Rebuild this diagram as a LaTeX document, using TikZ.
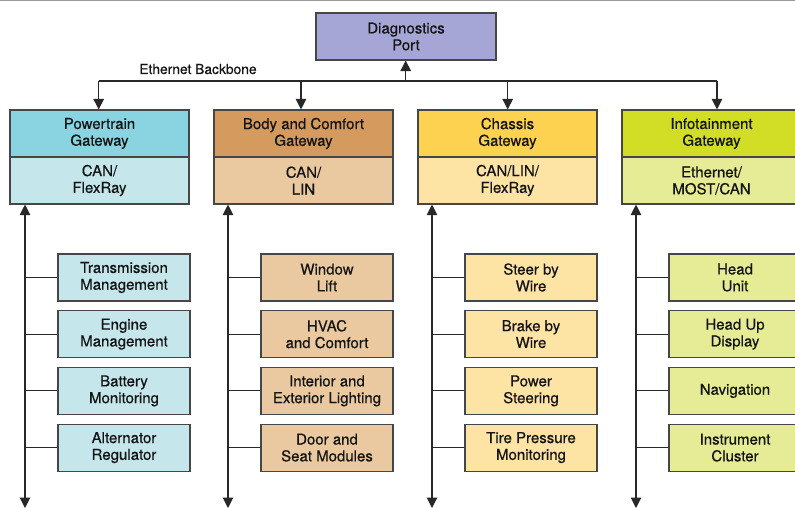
\documentclass[tikz,border=0pt]{standalone}
\usepackage{fontspec}
\setmainfont{TeX Gyre Heros}
\newfontfamily\labelfont{TeX Gyre Heros}[FakeBold=0.5]
\usetikzlibrary{arrows.meta}

% fills
\definecolor{diagfill}{RGB}{166,166,214}
\definecolor{ptdark}{RGB}{138,211,224}
\definecolor{ptlight}{RGB}{197,231,236}
\definecolor{bcdark}{RGB}{212,154,94}
\definecolor{bclight}{RGB}{234,201,160}
\definecolor{chdark}{RGB}{253,210,80}
\definecolor{chlight}{RGB}{253,227,164}
\definecolor{indark}{RGB}{210,222,38}
\definecolor{inlight}{RGB}{230,236,150}
\definecolor{edge}{RGB}{70,70,70}
\definecolor{wire}{RGB}{40,40,40}
\definecolor{ink}{RGB}{20,20,20}

\tikzset{
  box/.style={draw=edge, line width=1.1pt, rectangle, inner sep=0pt,
    align=center, text=ink, font=\labelfont\fontsize{15}{16.8}\selectfont},
  gwbox/.style={box, minimum width=179pt, minimum height=47pt},
  ecubox/.style={box, minimum width=132pt, minimum height=47pt},
  tip/.style={Triangle[width=10.5pt,length=10.5pt]},
  arr/.style={draw=wire, line width=1.1pt, -{Triangle[width=10.5pt,length=10.5pt]}},
  bus/.style={draw=wire, line width=1.1pt,
    {Triangle[width=10.5pt,length=10.5pt]}-{Triangle[width=10.5pt,length=10.5pt]}},
  tap/.style={draw=wire, line width=0.9pt},
}

\begin{document}
\begin{tikzpicture}[x=1pt, y=-1pt]
\useasboundingbox (0,0) rectangle (795,508);

% thin rule along the top edge
\draw[gray!80, line width=1pt] (0,0.6) -- (795,0.6);

% diagnostics port
\node[gwbox, fill=diagfill, minimum width=180pt] (diag) at (406,36.5) {Diagnostics\\Port};

% gateways: upper half name, lower half bus type
\node[gwbox, fill=ptdark]  (ptg) at (99.5,133.5)  {Powertrain\\Gateway};
\node[gwbox, fill=ptlight] (ptb) at (99.5,180.5)  {CAN/\\FlexRay};
\node[gwbox, fill=bcdark]  (bcg) at (303.5,133.5) {Body and Comfort\\Gateway};
\node[gwbox, fill=bclight] (bcb) at (303.5,180.5) {CAN/\\LIN};
\node[gwbox, fill=chdark]  (chg) at (507.5,133.5) {Chassis\\Gateway};
\node[gwbox, fill=chlight] (chb) at (507.5,180.5) {CAN/LIN/\\FlexRay};
\node[gwbox, fill=indark]  (ing) at (711.5,133.5) {Infotainment\\Gateway};
\node[gwbox, fill=inlight] (inb) at (711.5,180.5) {Ethernet/\\MOST/CAN};

% Ethernet backbone
\coordinate (b1) at (98.7,81);
\coordinate (b2) at (301,81);
\coordinate (bd) at (405.7,81);
\coordinate (b3) at (507.7,81);
\coordinate (b4) at (717,81);
\draw[wire, line width=1.1pt] (b1) -- (b4);
\node[font=\labelfont\fontsize{13.8}{15}\selectfont, text=ink, anchor=base] (bbl) at (198,74) {Ethernet Backbone};
\draw[arr] (b1) -- (b1 |- ptg.north);
\draw[arr] (b2) -- (b2 |- bcg.north);
\draw[arr] (b3) -- (b3 |- chg.north);
\draw[arr] (b4) -- (b4 |- ing.north);
\draw[arr] (bd) -- (bd |- diag.south);

% ECUs
\foreach \name/\txt [count=\i from 0] in {pt1/{Transmission\\Management}, pt2/{Engine\\Management}, pt3/{Battery\\Monitoring}, pt4/{Alternator\\Regulator}}
  \node[ecubox, fill=ptlight] (\name) at (124,277.5+56.7*\i) {\txt};
\foreach \name/\txt [count=\i from 0] in {bc1/{Window\\Lift}, bc2/{HVAC\\and Comfort}, bc3/{Interior and\\Exterior Lighting}, bc4/{Door and\\Seat Modules}}
  \node[ecubox, fill=bclight] (\name) at (327,277.5+56.7*\i) {\txt};
\foreach \name/\txt [count=\i from 0] in {ch1/{Steer by\\Wire}, ch2/{Brake by\\Wire}, ch3/{Power\\Steering}, ch4/{Tire Pressure\\Monitoring}}
  \node[ecubox, fill=chlight] (\name) at (531,277.5+56.7*\i) {\txt};
\foreach \name/\txt [count=\i from 0] in {in1/{Head\\Unit}, in2/{Head Up\\Display}, in3/{Navigation}, in4/{Instrument\\Cluster}}
  \node[ecubox, fill=inlight] (\name) at (735,277.5+56.7*\i) {\txt};

% vertical buses below each gateway
\coordinate (e1) at (25,508);
\coordinate (e2) at (228,508);
\coordinate (e3) at (432,508);
\coordinate (e4) at (636,508);
\draw[bus] (e1 |- ptb.south) -- (e1);
\draw[bus] (e2 |- bcb.south) -- (e2);
\draw[bus] (e3 |- chb.south) -- (e3);
\draw[bus] (e4 |- inb.south) -- (e4);

% taps from bus to each ECU
\foreach \k in {1,2,3,4}{
  \draw[tap] (e1 |- pt\k.west) -- (pt\k.west);
  \draw[tap] (e2 |- bc\k.west) -- (bc\k.west);
  \draw[tap] (e3 |- ch\k.west) -- (ch\k.west);
  \draw[tap] (e4 |- in\k.west) -- (in\k.west);
}
\end{tikzpicture}
\end{document}
